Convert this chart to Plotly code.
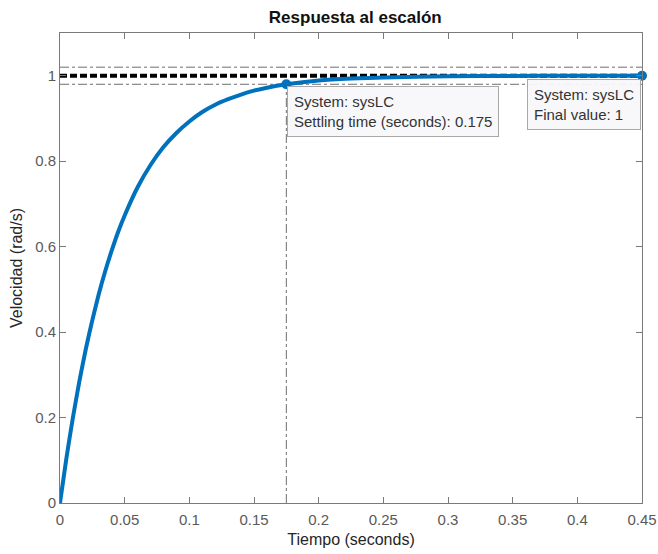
import plotly.graph_objects as go

# Step response samples of sysLC (time in seconds, speed in rad/s)
t = [0, 0.005, 0.01, 0.015, 0.02, 0.025, 0.03, 0.035, 0.04, 0.045, 0.05, 0.06, 0.07,
     0.08, 0.09, 0.10, 0.11, 0.12, 0.13, 0.14, 0.15, 0.16, 0.175, 0.20, 0.225,
     0.25, 0.30, 0.35, 0.40, 0.45]
speed = [0, 0.106, 0.200, 0.285, 0.361, 0.428, 0.489, 0.543, 0.591, 0.635, 0.673, 0.739,
         0.791, 0.833, 0.866, 0.893, 0.915, 0.932, 0.945, 0.956, 0.965, 0.972, 0.980,
         0.989, 0.9935, 0.996, 0.9988, 0.9996, 0.9999, 1.0]

final_value = 1.0
settling_time = 0.175
settling_value = 0.980
band = [0.98, 1.02]
t_end = 0.45

x_ticks = [0, 0.05, 0.1, 0.15, 0.2, 0.25, 0.3, 0.35, 0.4, 0.45]
x_tick_text = ["0", "0.05", "0.1", "0.15", "0.2", "0.25", "0.3", "0.35", "0.4", "0.45"]
y_ticks = [0, 0.2, 0.4, 0.6, 0.8, 1.0]
y_tick_text = ["0", "0.2", "0.4", "0.6", "0.8", "1"]

FONT = "Liberation Sans, Arial, Helvetica, sans-serif"
BLUE = "#0072BD"
GUIDE = "#6e6e6e"

fig = go.Figure()

# settling band (±2 %)
for level in band:
    fig.add_trace(go.Scatter(x=[0, t_end], y=[level, level], mode="lines",
                             line=dict(color=GUIDE, width=1, dash="dashdot"),
                             hoverinfo="skip", showlegend=False))

# vertical guide at the settling time
fig.add_trace(go.Scatter(x=[settling_time, settling_time], y=[0, settling_value], mode="lines",
                         line=dict(color=GUIDE, width=1, dash="dashdot"),
                         hoverinfo="skip", showlegend=False))

# final value reference
fig.add_trace(go.Scatter(x=[0, t_end], y=[final_value, final_value], mode="lines",
                         line=dict(color="black", width=4, dash="7px,3px"),
                         hoverinfo="skip", showlegend=False))

# response curve
fig.add_trace(go.Scatter(x=t, y=speed, mode="lines",
                         line=dict(color=BLUE, width=4, shape="spline", smoothing=0.6),
                         showlegend=False))

# characteristic points
fig.add_trace(go.Scatter(x=[settling_time, t_end], y=[settling_value, final_value],
                         mode="markers", marker=dict(color=BLUE, size=10),
                         cliponaxis=False, showlegend=False))

box = dict(bgcolor="rgba(248,248,250,0.95)", bordercolor="#a8a8a8", borderwidth=1,
           borderpad=6, align="left", showarrow=False,
           font=dict(family=FONT, size=15, color="#333333"))

fig.add_annotation(x=settling_time, y=settling_value, xanchor="left", yanchor="top",
                   xshift=1, yshift=-2,
                   text=f"System: sysLC<br>Settling time (seconds): {settling_time:g}", **box)
fig.add_annotation(x=t_end, y=final_value, xanchor="right", yanchor="top",
                   xshift=-1, yshift=-3,
                   text=f"System: sysLC<br>Final value: {final_value:g}", **box)

axis_common = dict(showgrid=False, zeroline=False, showline=True, linecolor="#7a7a7a",
                   linewidth=1, mirror="ticks", ticks="inside", ticklen=6,
                   tickcolor="#7a7a7a", automargin=False,
                   tickfont=dict(family=FONT, size=15, color="#5a5a5a"))

fig.update_xaxes(range=[0, t_end], tickvals=x_ticks, ticktext=x_tick_text,
                 ticklabelstandoff=3,
                 title=dict(text="Tiempo (seconds)", standoff=6,
                            font=dict(family=FONT, size=16, color="#262626")),
                 **axis_common)
fig.update_yaxes(range=[0, 1.1], tickvals=y_ticks, ticktext=y_tick_text,
                 title=dict(text="Velocidad (rad/s)", standoff=8,
                            font=dict(family=FONT, size=16, color="#262626")),
                 **axis_common)

fig.update_layout(
    width=658, height=554,
    margin=dict(l=60, r=16, t=33, b=51),
    paper_bgcolor="white", plot_bgcolor="white",
    title=dict(text="<b>Respuesta al escalón</b>", x=0.54, xanchor="center",
               y=0.969, yanchor="middle",
               font=dict(family=FONT, size=17, color="#111111")),
)

fig.write_html("out.html")
